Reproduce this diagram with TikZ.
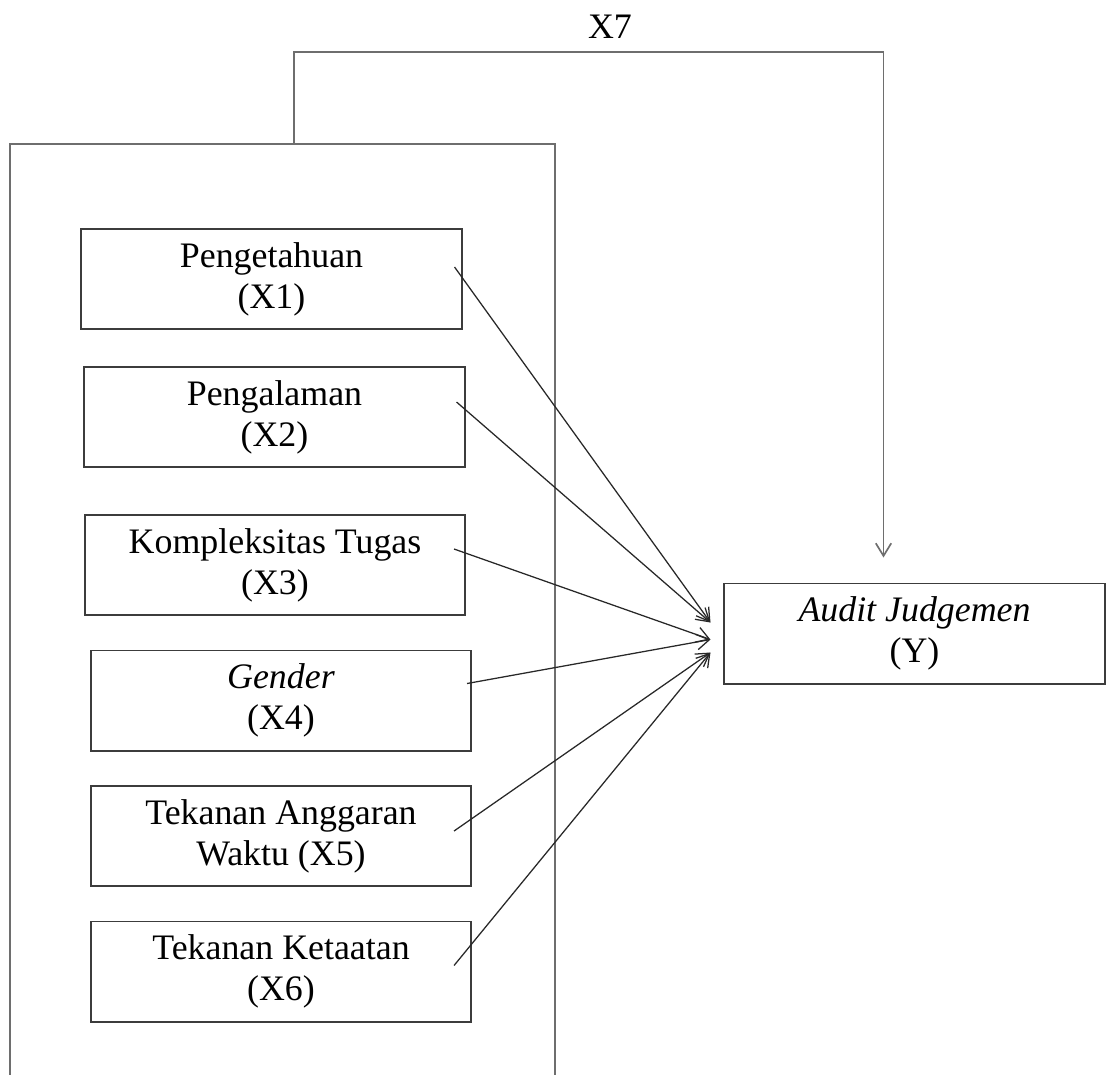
\documentclass[tikz,border=0pt]{standalone}
\usepackage{fontspec}
\setmainfont{Liberation Serif}
\usepackage{tikz}
\usetikzlibrary{arrows.meta, positioning, calc}

\definecolor{boxline}{RGB}{60, 60, 60}
\definecolor{frameline}{RGB}{110, 110, 110}
\definecolor{arrline}{RGB}{40, 40, 40}

\begin{document}
\begin{tikzpicture}[x=0.025cm, y=-0.025cm,
    var/.style={draw=boxline, line width=1.4pt, minimum width=9.5cm,
      minimum height=2.5cm, inner sep=0pt, align=center,
      font=\fontsize{25.5}{29}\selectfont},
    link/.style={draw=arrline, line width=0.9pt,
      -{Straight Barb[length=9pt, width=11pt]}}]
  \useasboundingbox (0,0) rectangle (1115,1074);
  % Group frame
  \node[draw=frameline, line width=1.2pt, minimum width=13.625cm,
        minimum height=23.65cm, inner sep=0pt] (group) at (282.5,617) {};
  % Inputs
  \foreach \i/\cx/\cy/\txt in {1/271.5/279/{Pengetahuan\\(X1)},
      2/274.5/417/{Pengalaman\\(X2)},
      3/275/565/{Kompleksitas Tugas\\(X3)},
      4/281/700.5/{\textit{Gender}\\(X4)},
      5/281/836/{Tekanan Anggaran\\Waktu (X5)},
      6/281/971.5/{Tekanan Ketaatan\\(X6)}} {
    \node[var] (x\i) at (\cx,\cy) {\txt};
  }
  % Output
  \node[var] (y) at (914.5,633.5) {\textit{Audit Judgemen}\\(Y)};
  % Edges
  \foreach \i/\dx/\dy/\ty in {1/-8/-12/-11, 2/-9/-15/-11, 3/-12/-16/6,
      4/-5/-17/6, 5/-18/-5/19, 6/-18/-6/19} {
    \draw[link] ($(x\i.east)+(\dx,\dy)$) -- ($(y.west)+(-13,\ty)$);
  }
  % Moderating path
  \draw[link, draw=frameline, line width=1.2pt]
    ($(group.north west)+(285,0)$) -- ++(0,-91) -| ($(y.north)+(-31,-25)$);
  \node[font=\fontsize{25.5}{29}\selectfont] (x7) at (610,27) {X7};
\end{tikzpicture}
\end{document}
